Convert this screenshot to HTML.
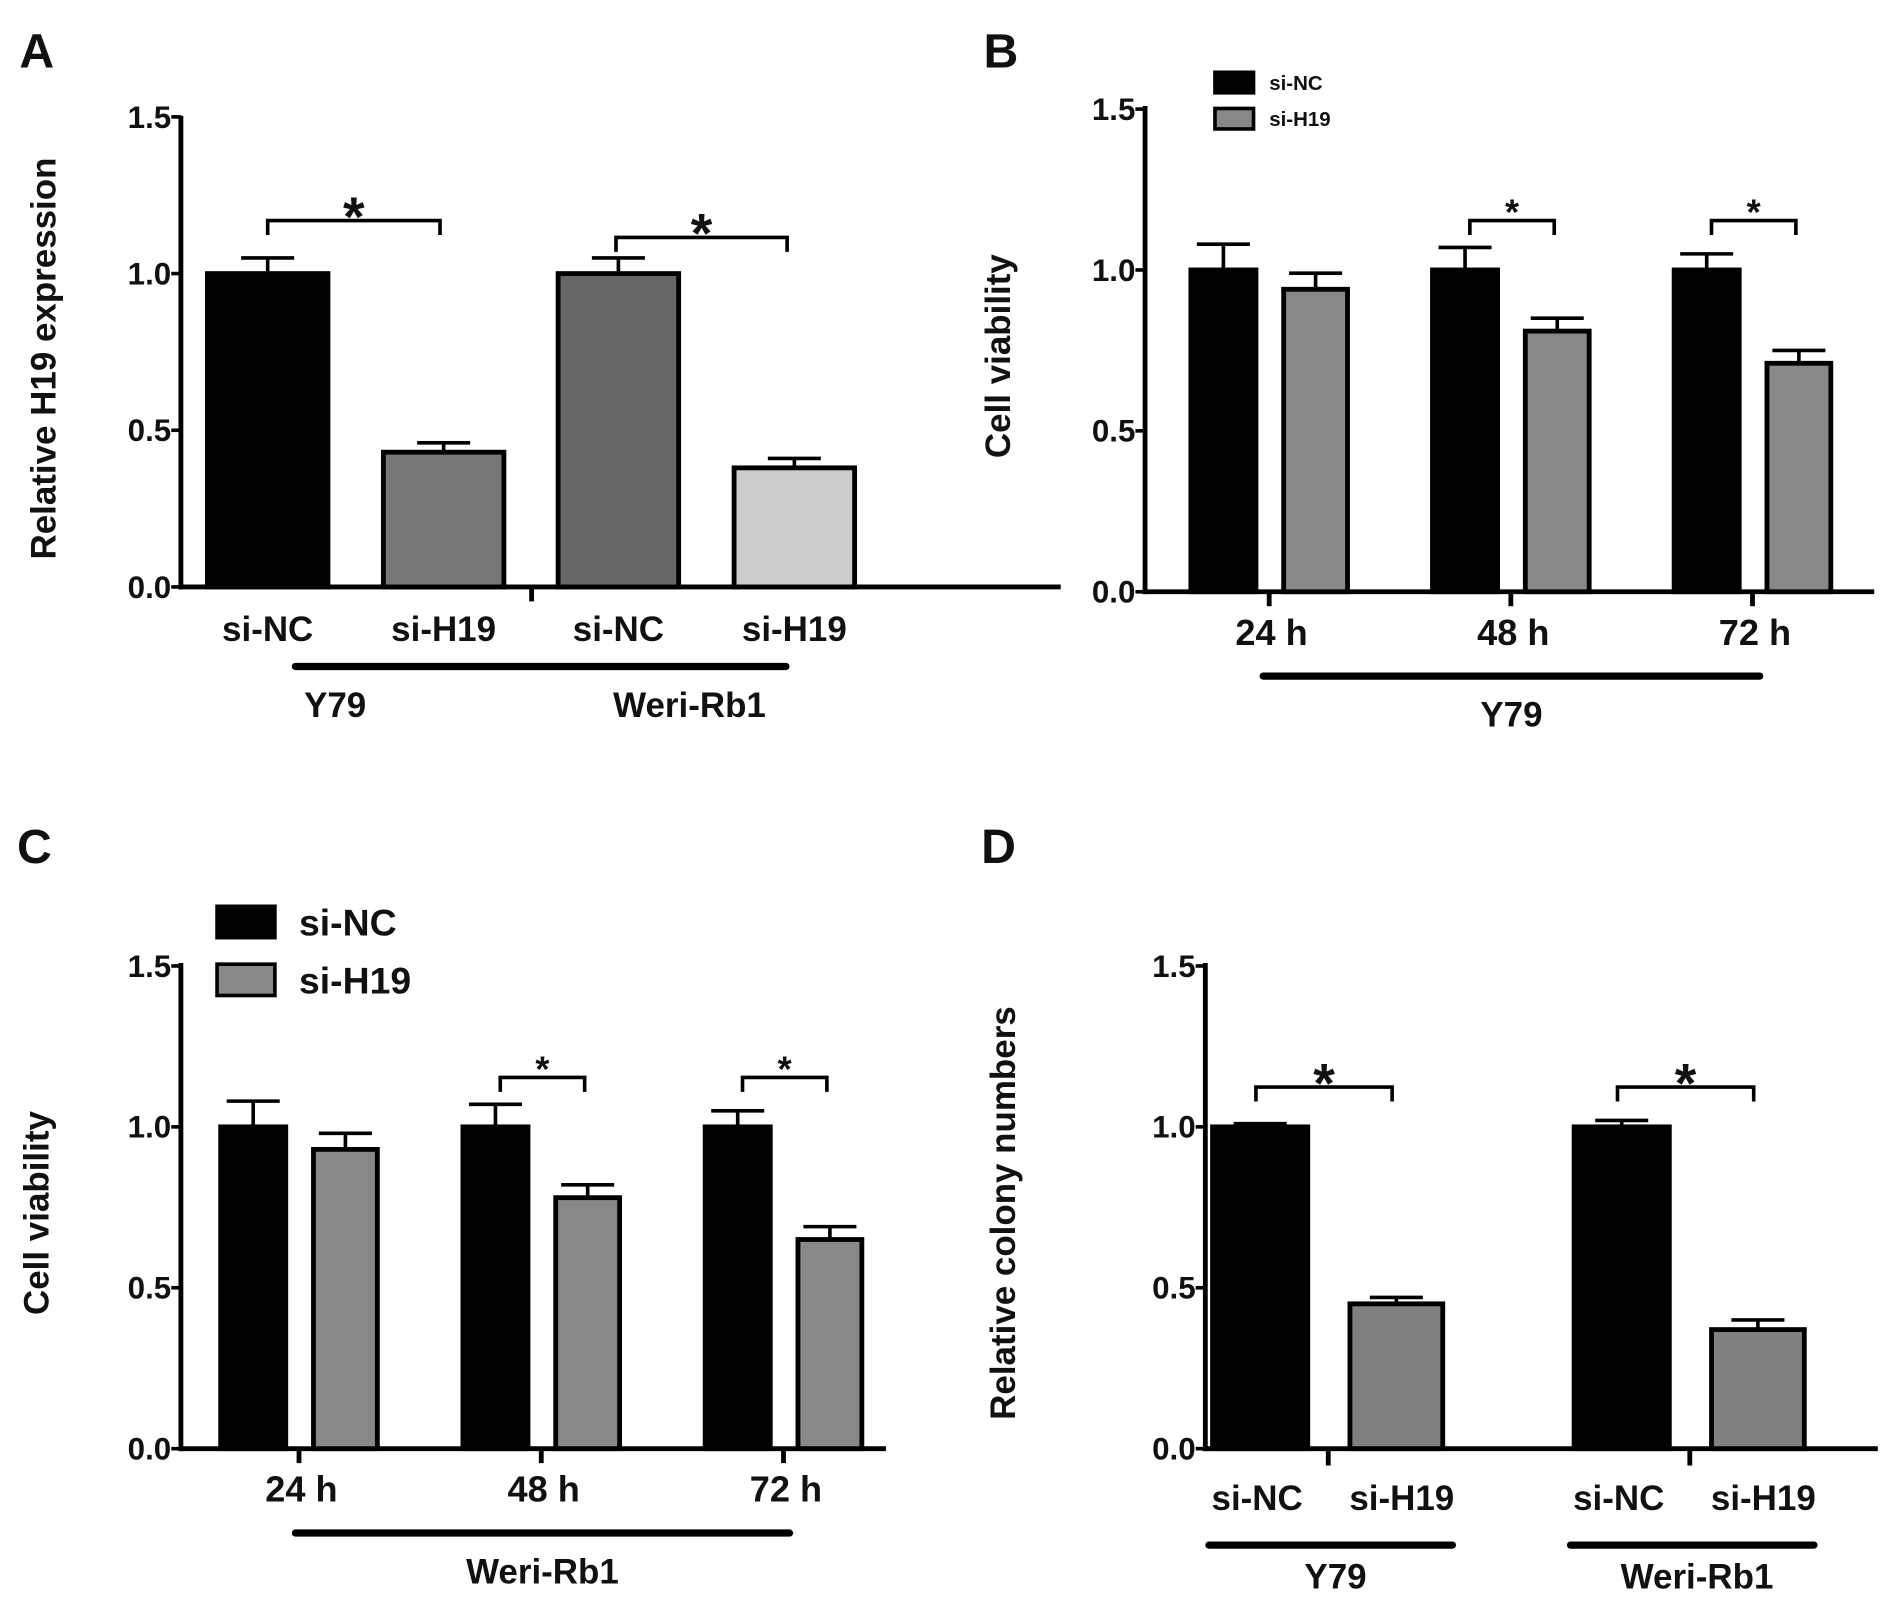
<!DOCTYPE html>
<html><head><meta charset="utf-8"><style>
html,body{margin:0;padding:0;background:#fff;}
svg{display:block;font-family:"Liberation Sans",Arial,sans-serif;font-weight:bold;}
</style></head>
<body>
<svg id="fig" width="1890" height="1621" viewBox="0 0 1568 1345" xmlns="http://www.w3.org/2000/svg"></svg>
<script>
// ---- Panel A data ----
const aCategories = ["si-NC","si-H19","si-NC","si-H19"];
const aValues = [1.0, 0.43, 1.0, 0.38];
const aErrors = [0.05, 0.03, 0.05, 0.03];
const aGroups = ["Y79","Weri-Rb1"];
// ---- Panel B data ----
const bCategories = ["24 h","48 h","72 h"];
const bSiNC = [1.0, 1.0, 1.0];
const bSiNCErr = [0.08, 0.07, 0.05];
const bSiH19 = [0.94, 0.81, 0.71];
const bSiH19Err = [0.05, 0.04, 0.04];
// ---- Panel C data ----
const cCategories = ["24 h","48 h","72 h"];
const cSiNC = [1.0, 1.0, 1.0];
const cSiNCErr = [0.08, 0.07, 0.05];
const cSiH19 = [0.93, 0.78, 0.65];
const cSiH19Err = [0.05, 0.04, 0.04];
// ---- Panel D data ----
const dGroups = ["Y79","Weri-Rb1"];
const dSiNC = [1.0, 1.0];
const dSiNCErr = [0.01, 0.02];
const dSiH19 = [0.45, 0.37];
const dSiH19Err = [0.02, 0.03];
const yTicks = [0.0, 0.5, 1.0, 1.5];
const yTickLabels = ["0.0","0.5","1.0","1.5"];

const svg = document.getElementById('fig');
const NS = 'http://www.w3.org/2000/svg';
function el(tag, attrs, parent){
  const e = document.createElementNS(NS, tag);
  for (const k in attrs) e.setAttribute(k, attrs[k]);
  (parent||svg).appendChild(e);
  return e;
}
function txt(x,y,s,size,anchor,parent,extra){
  const t = el('text',{x:x,y:y,'font-size':size,'text-anchor':anchor||'middle',fill:'#111'},parent);
  t.textContent = s;
  if(extra) for(const k in extra) t.setAttribute(k, extra[k]);
  return t;
}
function makeY(y0, unit){ return v => y0 - v*unit; }

function axes(g, ax, y0, yTop, xEnd, unit, tickSize, title, titleX){
  const y = makeY(y0, unit);
  const l = el('line',{x1:ax,y1:yTop-2,x2:ax,y2:y0+2,stroke:'#000','stroke-width':4},g);
   
  const xl = el('line',{x1:ax-2,y1:y0,x2:xEnd,y2:y0,stroke:'#000','stroke-width':4},g);
   
  yTicks.forEach((v,i)=>{
    el('line',{x1:ax-8,y1:y(v),x2:ax,y2:y(v),stroke:'#000','stroke-width':3},g);
    const t = txt(ax-8,y(v)+9,yTickLabels[i],tickSize,'end',g);
     
  });
  const cy = (y0+yTop)/2 + 5;
  const tt = txt(titleX,cy,title,29,'middle',g,{transform:`rotate(-90 ${titleX} ${cy})`});
   
  return y;
}
function bar(g, x, w, v, err, y, fill, name){
  const r = el('rect',{x:x,y:y(v),width:w,height:y(0)-y(v),fill:fill,stroke:'#000','stroke-width':4},g);
   
  const cx = x+w/2;
  const e = el('path',{d:`M${cx},${y(v)} V${y(v+err)} M${cx-22},${y(v+err)} H${cx+22}`,stroke:'#000','stroke-width':3,fill:'none'},g);
   
}
function bracket(g, x1, x2, yb, size){
  const p = el('path',{d:`M${x1},${yb+12} V${yb} H${x2} V${yb+12}`,stroke:'#000','stroke-width':3,fill:'none'},g);
   
  const s = txt((x1+x2)/2,yb-14+size*0.58,'*',size,'middle',g);
   
}
function letter(x,y,s){
  const t = txt(x,y,s,40,'start');
   
}

// ---------- Panel A ----------
(function(){
  const g = el('g',{});
   
  letter(16,56,'A');
  const y = axes(g,150,487,98,880,260,26,'Relative H19 expression',46);
  const fills = ['#000','#777','#666','#ccc'];
  const xs = [172,318,463,609];
  aValues.forEach((v,i)=>bar(g,xs[i],100,v,aErrors[i],y,fills[i],'bar-a-'+i));
  el('line',{x1:441,y1:487,x2:441,y2:499,stroke:'#000','stroke-width':4},g);
  aCategories.forEach((c,i)=>{
    const t = txt(xs[i]+50,532,c,29,'middle',g);
     
  });
  bracket(g,222,365,183,46);
  bracket(g,511,653,197,46);
  el('line',{x1:245,y1:553,x2:652,y2:553,stroke:'#000','stroke-width':6,'stroke-linecap':'round'},g);
  txt(278,595,aGroups[0],29,'middle',g);
  txt(572,595,aGroups[1],29,'middle',g);
})();

// ---------- grouped time panels (B, C) ----------
function timePanel(opts, cats, nc, ncErr, h19, h19Err){
  const g = el('g',{});
   
  letter(opts.lx,opts.ly,opts.letter);
  const y = axes(g,opts.ax,opts.y0,opts.yTop,opts.xEnd,267,26,'Cell viability',opts.titleX);
  cats.forEach((c,i)=>{
    const base = opts.firstX + i*opts.step;
    bar(g,base,54,nc[i],ncErr[i],y,'#000','bar-si-nc-'+i);
    bar(g,base+77,53,h19[i],h19Err[i],y,'#888','bar-si-h19-'+i);
    el('line',{x1:base+65,y1:opts.y0,x2:base+65,y2:opts.y0+12,stroke:'#000','stroke-width':4},g);
    const t = txt(base+67,opts.y0+44,c,30,'middle',g);
     
    if(i>0) bracket(g,base+31,base+101,opts.y0-308,30);
  });
  el('line',{x1:opts.lineX1,y1:opts.y0+70,x2:opts.lineX2,y2:opts.y0+70,stroke:'#000','stroke-width':6,'stroke-linecap':'round'},g);
  const gl = txt((opts.lineX1+opts.lineX2)/2,opts.y0+112,opts.group,29,'middle',g);
   
  const L = opts.legend;
  const r1 = el('rect',{x:L.x,y:L.y,width:L.w,height:L.h,fill:'#000',stroke:'#000','stroke-width':3},g);
   
  const r2 = el('rect',{x:L.x,y:L.y+L.gap,width:L.w,height:L.h,fill:'#888',stroke:'#000','stroke-width':3},g);
   
  const t1 = txt(L.x+L.w+L.tx,L.y+L.h*0.5+L.fs*0.36,'si-NC',L.fs,'start',g);
   
  const t2 = txt(L.x+L.w+L.tx,L.y+L.gap+L.h*0.5+L.fs*0.36,'si-H19',L.fs,'start',g);
   
}
timePanel({name:'panel-b',letter:'B',lx:816,ly:56,ax:950,y0:491,yTop:90,xEnd:1555,titleX:838,firstX:988,step:200.5,
  lineX1:1048,lineX2:1460,group:'Y79',legend:{x:1008,y:60,w:32,h:17,gap:30,tx:13,fs:17}},
  bCategories,bSiNC,bSiNCErr,bSiH19,bSiH19Err);
timePanel({name:'panel-c',letter:'C',lx:14,ly:716,ax:150,y0:1202,yTop:801,xEnd:735,titleX:40,firstX:183,step:201,
  lineX1:245,lineX2:655,group:'Weri-Rb1',legend:{x:180,y:752,w:48,h:26,gap:48,tx:20,fs:31}},
  cCategories,cSiNC,cSiNCErr,cSiH19,cSiH19Err);

// ---------- Panel D ----------
(function(){
  const g = el('g',{});
   
  letter(814,716,'D');
  const y = axes(g,1000,1202,801,1558,267,26,'Relative  colony numbers',842);
  dGroups.forEach((grp,i)=>{
    const base = 1006 + i*300;
    bar(g,base,79,dSiNC[i],dSiNCErr[i],y,'#000','bar-si-nc-'+i);
    bar(g,base+114,77,dSiH19[i],dSiH19Err[i],y,'#808080','bar-si-h19-'+i);
    el('line',{x1:base+96,y1:1202,x2:base+96,y2:1216,stroke:'#000','stroke-width':4},g);
    const a = txt(base+37,1253,'si-NC',29,'middle',g);
     
    const b = txt(base+157,1253,'si-H19',29,'middle',g);
     
    bracket(g,base+36,base+149,902,46);
    el('line',{x1:base-3,y1:1282,x2:base+199,y2:1282,stroke:'#000','stroke-width':6,'stroke-linecap':'round'},g);
    const gl = txt(base+102,1318,grp,29,'middle',g);
     
  });
})();
</script>
</body></html>
